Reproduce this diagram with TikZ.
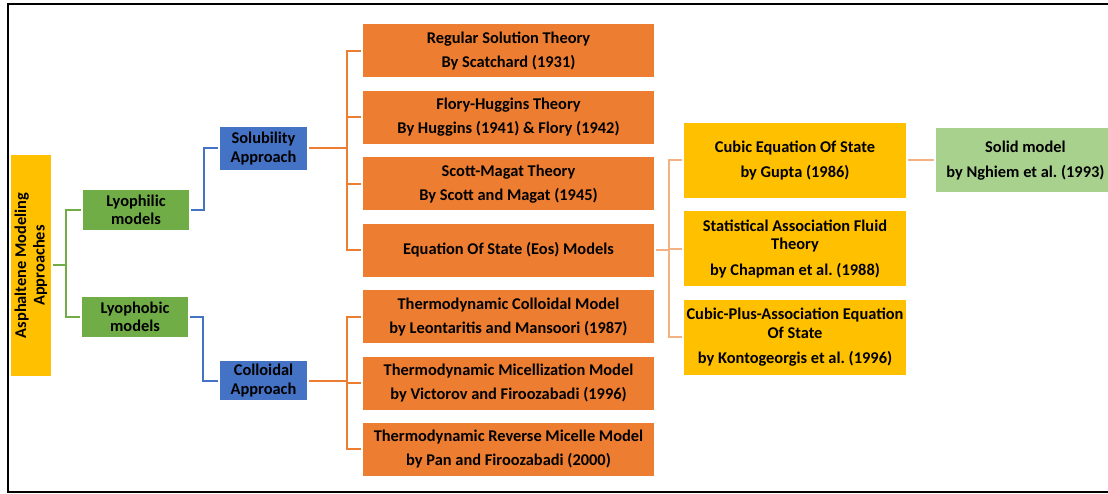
\documentclass[tikz,border=0pt]{standalone}
\usepackage{fontspec}
\setmainfont{Carlito}
\usetikzlibrary{positioning}

\definecolor{boxorange}{HTML}{ED7D31}
\definecolor{boxyellow}{HTML}{FFC000}
\definecolor{boxgreen}{HTML}{70AD47}
\definecolor{boxblue}{HTML}{4472C4}
\definecolor{boxlight}{HTML}{A9D18E}
\definecolor{linepeach}{HTML}{F4B183}

\begin{document}
\begin{tikzpicture}[
    x = 1pt, y = -1pt, % image-like units
    font = \bfseries\fontsize{16.4}{18.5}\selectfont\frenchspacing,
    node distance = 13pt and 30pt, % gap between boxes
    box/.style = {align=center, inner sep=0pt, text=black},
    orangebox/.style = {box, fill=boxorange, minimum width=291, minimum height=53},
    yellowbox/.style = {box, fill=boxyellow, minimum width=222, minimum height=75},
    greenbox/.style = {box, fill=boxgreen, minimum width=106, minimum height=40},
    bluebox/.style = {box, fill=boxblue, minimum width=87},
    link/.style = {line width=2pt, shorten < = 2pt, shorten > = 2pt}
    ]

    \useasboundingbox (0,0) rectangle (1108,494);
    \draw[line width=2.5pt] (1112,4) -- (8,4) -- (8,492) -- (1112,492);

    % left part
    \node[box, fill=boxyellow, rotate=90, minimum width=221, minimum height=40] (asp) at (31,265.5) {Asphaltene Modeling\\Approaches};
    \node[greenbox] (lyphil) at (136,210) {Lyophilic\\models};
    \node[greenbox] (lyphob) at (135,317) {Lyophobic\\models};
    \node[bluebox, minimum height=43] (solub) at (263.5,148.5) {Solubility\\Approach};
    \node[bluebox, minimum height=39] (colloid) at (263.5,380.5) {Colloidal\\Approach};

    % orange stack
    \node[orangebox] (reg) at (508.5,51) {Regular Solution Theory\\[5.5pt]By Scatchard (1931)};
    \node[orangebox] (flory) [below=of reg] {Flory-Huggins Theory\\[5.5pt]By Huggins (1941) \& Flory (1942)};
    \node[orangebox] (scott) [below=of flory] {Scott-Magat Theory\\[5.5pt]By Scott and Magat (1945)};
    \node[orangebox] (eos) [below=of scott] {Equation Of State (Eos) Models};
    \node[orangebox] (tcm) [below=of eos] {Thermodynamic Colloidal Model\\[5.5pt]by Leontaritis and Mansoori (1987)};
    \node[orangebox] (tmm) [below=of tcm] {Thermodynamic Micellization Model\\[5.5pt]by Victorov and Firoozabadi (1996)};
    \node[orangebox] (trm) [below=of tmm] {Thermodynamic Reverse Micelle Model\\[5.5pt]by Pan and Firoozabadi (2000)};

    % yellow stack
    \node[yellowbox] (cubic) at (795,160.5) {Cubic Equation Of State\\[7pt]by Gupta (1986)};
    \node[yellowbox] (saft) [below=of cubic] {Statistical Association Fluid\\Theory\\[7pt]by Chapman et al. (1988)};
    \node[yellowbox] (cpa) [below=of saft] {Cubic-Plus-Association Equation\\Of State\\[7pt]by Kontogeorgis et al. (1996)};
    \node[box, fill=boxlight, minimum width=178, minimum height=64] (solid) [right=of cubic] {Solid model\\[7pt]by Nghiem et al. (1993)};

    % connectors
    \draw[link, boxgreen] (asp.south) -- ++(15,0) |- (lyphil.west);
    \draw[link, boxgreen] (asp.south) -- ++(15,0) |- (lyphob.west);
    \draw[link, boxblue] (lyphil.east) -- ++(15,0) |- (solub.west);
    \draw[link, boxblue] (lyphob.east) -- ++(15,0) |- (colloid.west);
    \foreach \n in {reg,flory,scott,eos}
        \draw[link, boxorange] (solub.east) -- ++(40,0) |- (\n.west);
    \foreach \n in {tcm,tmm,trm}
        \draw[link, boxorange] (colloid.east) -- ++(40,0) |- (\n.west);
    \foreach \n in {cubic,saft,cpa}
        \draw[link, linepeach] (eos.east) -- ++(15,0) |- (\n.west);
    \draw[link, linepeach] (cubic) -- (solid);
\end{tikzpicture}
\end{document}
